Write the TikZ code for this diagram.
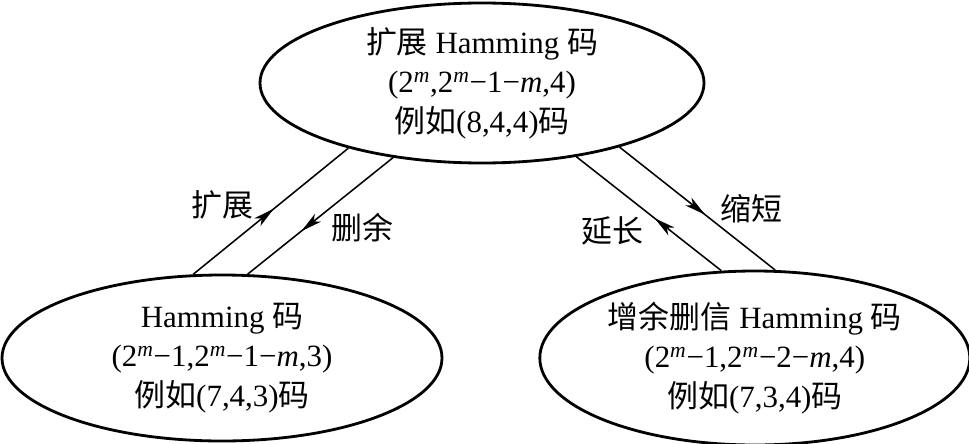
\documentclass[tikz,border=0pt]{standalone}
\usepackage{fontspec}
\setmainfont{Liberation Serif}
\newfontfamily\zhfont{Noto Sans CJK SC}
\newcommand{\zh}[1]{{\zhfont #1}}
\newcommand{\twom}{2\textsuperscript{\textit{m}}}
\usetikzlibrary{positioning}
\usetikzlibrary{shapes.geometric}
\usetikzlibrary{decorations.markings,arrows.meta}
\tikzset{
    codebox/.style={ellipse, draw, line width=2pt, inner sep=0pt, align=center,
      font=\fontsize{22}{28}\selectfont}, % the three code families
    flow/.style={line width=1.1pt, postaction={decorate},
      decoration={markings, mark=at position #1 with {\arrow{Stealth[length=15pt,width=7pt,inset=4pt]}}}},
    flow/.default=0.5,
    arclabel/.style={font=\fontsize{22}{28}\selectfont},
}
\begin{document}
\begin{tikzpicture}[]
  \useasboundingbox (0,0) rectangle (24.225,11.075);

  \node[codebox, minimum width=11.1cm, minimum height=4cm] (h_ext) at (12.05,9.0)
    {\zh{扩展} Hamming \zh{码}\\(\twom,\twom−1−\textit{m},4)\\\zh{例如}(8,4,4)\zh{码}};
  \node[codebox, minimum width=11cm, minimum height=4.15cm] (h_base) at (5.55,2.125)
    {Hamming \zh{码}\\(\twom−1,\twom−1−\textit{m},3)\\\zh{例如}(7,4,3)\zh{码}};
  \node[codebox, minimum width=10.75cm, minimum height=4.35cm] (h_short) [right=2.375cm of h_base]
    {\zh{增余删信} Hamming \zh{码}\\(\twom−1,\twom−2−\textit{m},4)\\\zh{例如}(7,3,4)\zh{码}};

  \draw[flow=0.52] (h_base.109.5) -- node[arclabel, pos=.55, left=5mm] {\zh{扩展}} (h_ext.206.4);
  \draw[flow=0.63] (h_ext.220.5) -- node[arclabel, pos=.6, right=5mm] {\zh{删余}} (h_base.73);
  \draw[flow=0.46] (h_short.111.7) -- node[arclabel, pos=.35, left=5.5mm] {\zh{延长}} (h_ext.322.6);
  \draw[flow=0.55] (h_ext.335.1) -- node[arclabel, pos=.5, right=4.5mm] {\zh{缩短}} (h_short.77.2);
\end{tikzpicture}
\end{document}
